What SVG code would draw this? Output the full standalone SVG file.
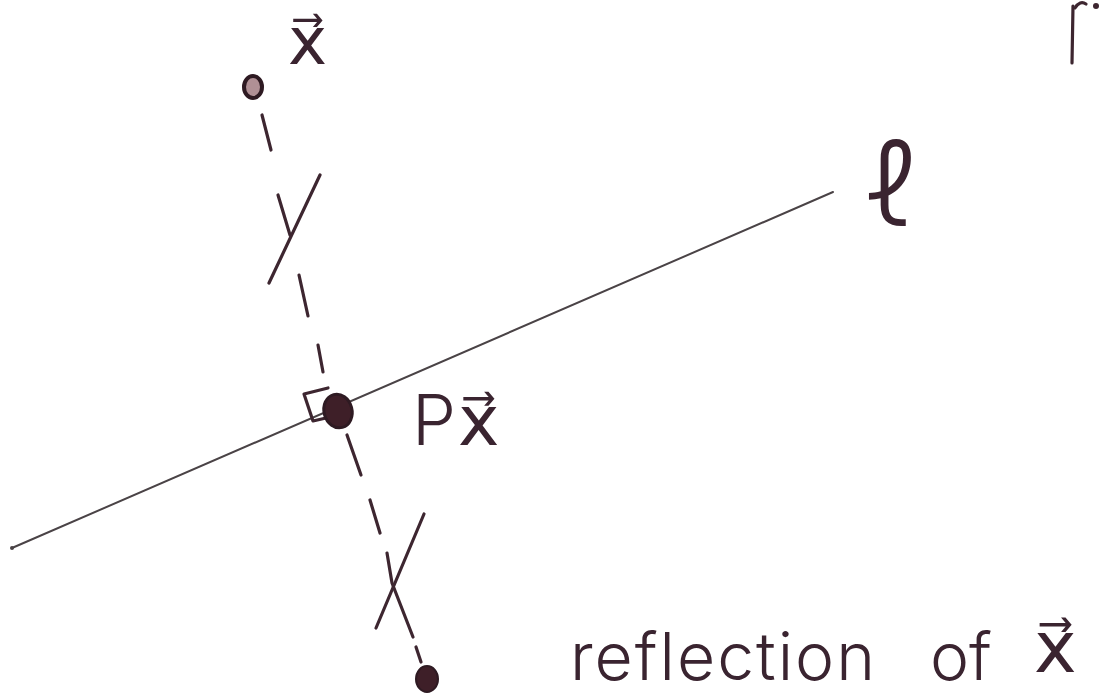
<svg xmlns="http://www.w3.org/2000/svg" width="1110" height="698" viewBox="0 0 1110 698">
<style>
.ink{fill:none;stroke:#3d2630;stroke-width:3.2;stroke-linecap:round;stroke-linejoin:round}
.thin{fill:none;stroke:#4a4346;stroke-width:2;stroke-linecap:round}
.lbl{font-family:Inter,"DejaVu Sans",sans-serif;font-weight:300;fill:#3a2430}
.vec{font-family:"DejaVu Sans",sans-serif;font-weight:normal}
</style>
<rect width="1110" height="698" fill="#ffffff"/>
<g id="line-l">
<path class="thin" d="M12,548 L833,192"/>
<circle cx="12" cy="548" r="2" fill="#4a4346"/>
<text class="lbl" x="868" y="226" font-size="118" font-family="'DejaVu Sans',sans-serif" font-weight="200">ℓ</text>
</g>
<g id="connectors">
<path class="ink" d="M262,115 L271,150"/>
<path class="ink" d="M320,175 L269,283"/>
<path class="ink" d="M278,195 L290,235"/>
<path class="ink" d="M299,275 L308,316"/>
<path class="ink" d="M318,345 L323,372"/>
<path class="ink" d="M347,435 L361,475"/>
<path class="ink" d="M370,500 L380,533"/>
<path class="ink" d="M424,514 L376,628"/>
<path class="ink" d="M387,553 L392,583 L413,637"/>
<path class="ink" d="M416,647 L421,662"/>
<path class="ink" d="M328,388 L304,394 L313,421 L326,418"/>
</g>
<g id="node-x">
<ellipse cx="253" cy="87" rx="9" ry="11" fill="#b09095" stroke="#2e1a22" stroke-width="4"/>
<text class="lbl vec" x="288" y="64" font-size="66">x⃗</text>
</g>
<g id="node-px">
<ellipse cx="338" cy="411" rx="14" ry="17" transform="rotate(-15 338 411)" fill="#3e1f28" stroke="#2e1a22" stroke-width="3"/>
<text class="lbl" x="412" y="445" font-size="70">P<tspan class="vec" dx="2">x⃗</tspan></text>
</g>
<g id="node-reflection">
<ellipse cx="427" cy="679" rx="11" ry="13" fill="#3e1f28" stroke="#2e1a22" stroke-width="2"/>
<text class="lbl" y="680" font-size="66"><tspan x="570" textLength="305">reflection</tspan><tspan x="930">of</tspan><tspan class="vec" x="1034" font-size="72" y="672">x⃗</tspan></text>
</g>
<g id="corner-mark">
<path class="ink" d="M1073,6 L1072,63"/>
<path class="ink" d="M1075,8 Q1080,0 1086,4"/>
<circle cx="1096" cy="6" r="3" fill="#3d2630"/>
</g>
</svg>
